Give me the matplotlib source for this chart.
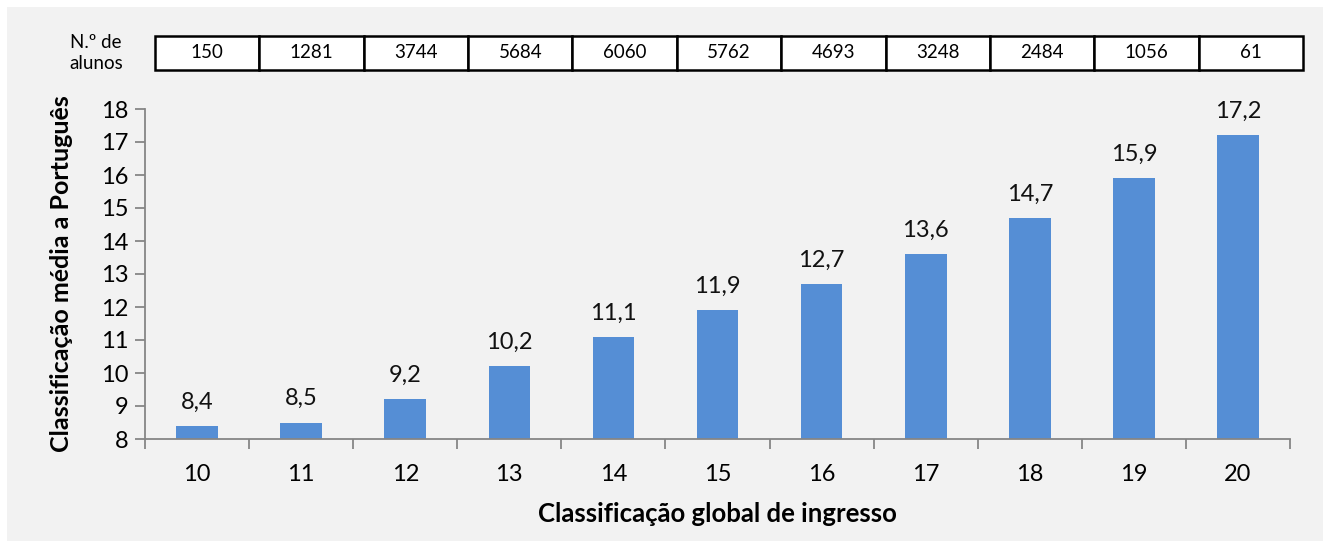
import numpy as np
import matplotlib.pyplot as plt
from matplotlib.patches import Rectangle

# dados
notas_ingresso = ['10', '11', '12', '13', '14', '15', '16', '17', '18', '19', '20']
media_portugues = [8.4, 8.5, 9.2, 10.2, 11.1, 11.9, 12.7, 13.6, 14.7, 15.9, 17.2]
n_alunos = [150, 1281, 3744, 5684, 6060, 5762, 4693, 3248, 2484, 1056, 61]

plt.rcParams['font.family'] = ['Lato', 'DejaVu Sans']

W, H = 1325, 542
fig = plt.figure(figsize=(W / 100, H / 100), dpi=100)
fig.patch.set_facecolor('white')
# fundo cinzento
fig.patches.append(Rectangle((7 / W, 1 / H), 1316 / W, 534 / H, transform=fig.transFigure,
                             facecolor='#f2f2f2', edgecolor='none', zorder=-10))

ax = fig.add_axes([145 / W, 1 - 439 / H, 1145 / W, 330 / H])
ax.set_facecolor('none')
x = np.arange(len(notas_ingresso))
bars = ax.bar(x, np.array(media_portugues) - 8, bottom=8, width=0.4, color='#558ed5')
for xi, v in zip(x, media_portugues):
    ax.text(xi, v + 0.4, f'{v:.1f}'.replace('.', ','), ha='center', va='bottom',
            fontsize=17, color='#111111')

ax.set_xlim(-0.5, len(x) - 0.5)
ax.set_ylim(8, 18)
ax.set_yticks(range(8, 19))
ax.set_xticks(x)
ax.set_xticklabels(notas_ingresso)
ax.set_xticks(np.arange(-0.5, len(x)), minor=True)
ax.tick_params(axis='x', which='major', length=0, pad=18, labelsize=17)
ax.tick_params(axis='x', which='minor', length=7, width=1.3, color='#868686', direction='out')
ax.tick_params(axis='y', length=7, width=1.3, color='#868686', labelsize=17, pad=5)
for s in ['top', 'right']:
    ax.spines[s].set_visible(False)
for s in ['left', 'bottom']:
    ax.spines[s].set_color('#868686')
    ax.spines[s].set_linewidth(1.3)

ax.set_xlabel('Classificação global de ingresso', fontsize=18.5, fontweight='bold', labelpad=12)
ax.set_ylabel('Classificação média a Português', fontsize=18, fontweight='bold', labelpad=20)

# tabela com numero de alunos
tax = fig.add_axes([155 / W, 1 - 70 / H, 1148 / W, 34 / H])
tax.axis('off')
tab = tax.table(cellText=[[str(n) for n in n_alunos]], bbox=[0, 0, 1, 1], cellLoc='center')
tab.auto_set_font_size(False)
for cell in tab.get_celld().values():
    cell.set_facecolor('white')
    cell.set_linewidth(1.8)
    cell.get_text().set_fontsize(13.5)
fig.text(96 / W, 1 - 53 / H, 'N.º de\nalunos', ha='center', va='center', fontsize=13.5,
         linespacing=1.3, multialignment='center')

fig.savefig('out.png', dpi=100, facecolor=fig.get_facecolor())
